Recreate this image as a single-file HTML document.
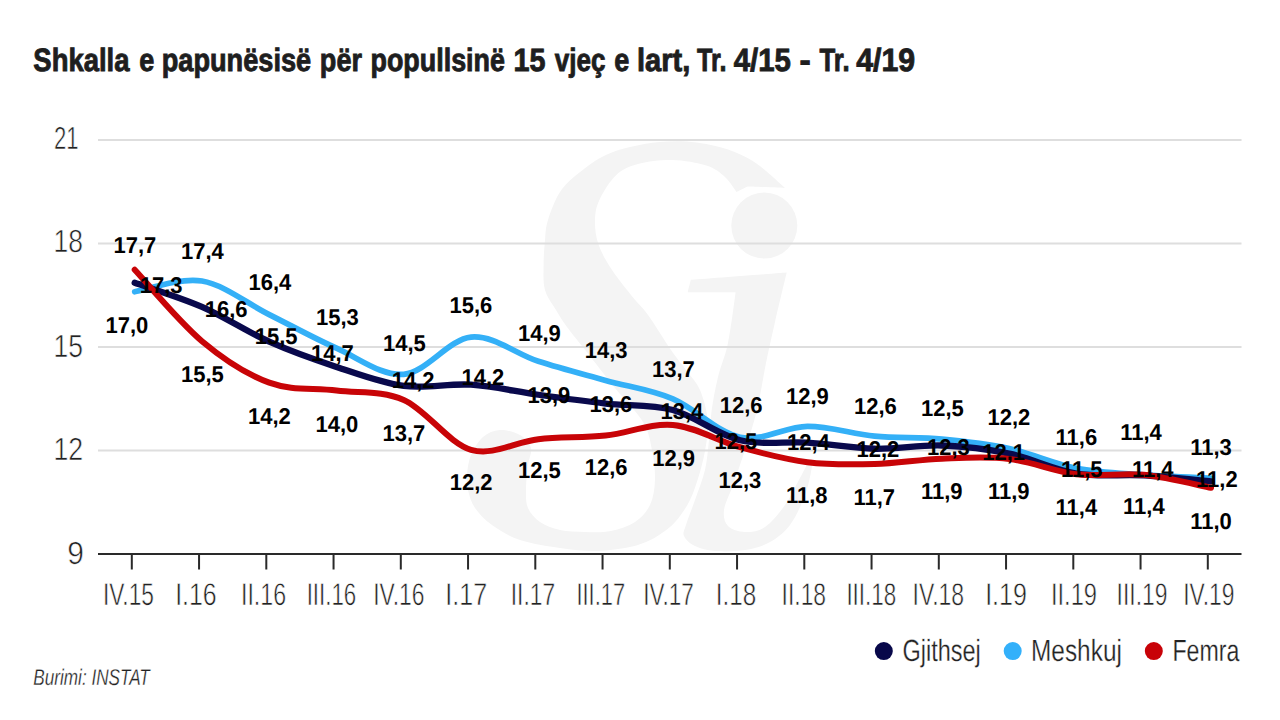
<!DOCTYPE html><html><head><meta charset="utf-8"><title>Shkalla e papunësisë</title><style>
html,body{margin:0;padding:0;background:#fff;width:1280px;height:720px;overflow:hidden}
svg{display:block;text-rendering:geometricPrecision}
.t{font-family:"Liberation Sans",Arial,sans-serif}
.lbl{font-family:"Liberation Sans",Arial,sans-serif;font-weight:bold;font-size:22.80px;fill:#000}
.ax{font-family:"Liberation Sans",Arial,sans-serif;fill:#222;stroke:#fff;stroke-width:0.6px}
</style></head><body>
<svg width="1280" height="720" viewBox="0 0 1280 720">
<rect width="1280" height="720" fill="#fff"/>
<path d="M785.0,188.0 C785.0,188.0 772.2,176.0 766.0,171.0 C759.8,166.0 755.4,162.0 747.6,158.0 C739.9,154.0 730.4,149.8 719.5,147.0 C708.6,144.2 694.5,141.8 682.0,141.3 C669.5,140.8 656.9,141.8 644.4,144.0 C631.9,146.2 617.9,149.6 607.0,154.4 C596.1,159.2 586.6,166.7 578.8,173.0 C571.0,179.3 565.1,184.2 560.0,192.0 C554.9,199.8 550.5,212.0 548.0,220.0 C545.5,228.0 545.7,232.5 545.0,240.0 C544.3,247.5 543.6,256.7 543.6,265.0 C543.6,273.3 542.9,282.5 545.0,290.0 C547.1,297.5 552.3,303.8 556.0,310.0 C559.7,316.2 562.0,320.2 567.0,327.0 C572.0,333.8 578.0,340.8 586.0,351.0 C594.0,361.2 605.5,376.2 615.0,388.0 C624.5,399.8 636.8,411.7 643.0,422.0 C649.2,432.3 650.0,440.3 652.0,450.0 C654.0,459.7 655.3,470.8 655.0,480.0 C654.7,489.2 653.3,498.0 650.0,505.0 C646.7,512.0 641.5,517.7 635.0,522.0 C628.5,526.3 619.3,529.3 611.0,531.0 C602.7,532.7 593.5,532.2 585.0,532.0 C576.5,531.8 567.5,531.7 560.0,530.0 C552.5,528.3 545.3,525.7 540.0,522.0 C534.7,518.3 530.3,513.3 528.0,508.0 C525.7,502.7 526.0,497.2 526.0,490.0 C526.0,482.8 527.2,472.0 528.0,465.0 C528.8,458.0 532.3,453.0 531.0,448.0 C529.7,443.0 525.2,438.0 520.0,435.0 C514.8,432.0 506.2,429.7 500.0,430.0 C493.8,430.3 487.8,432.8 483.0,437.0 C478.2,441.2 473.7,448.7 471.0,455.0 C468.3,461.3 467.5,469.2 467.0,475.0 C466.5,480.8 466.7,484.5 468.0,490.0 C469.3,495.5 471.0,502.2 475.0,508.0 C479.0,513.8 484.5,519.7 492.0,525.0 C499.5,530.3 508.7,536.2 520.0,540.0 C531.3,543.8 547.7,546.2 560.0,548.0 C572.3,549.8 583.2,551.0 594.0,551.0 C604.8,551.0 616.3,549.5 625.0,548.0 C633.7,546.5 639.8,544.5 646.0,542.0 C652.2,539.5 657.0,536.5 662.0,533.0 C667.0,529.5 671.3,526.5 676.0,521.0 C680.7,515.5 686.0,508.2 690.0,500.0 C694.0,491.8 697.3,481.2 700.0,472.0 C702.7,462.8 704.7,453.5 706.0,445.0 C707.3,436.5 709.0,430.2 708.0,421.0 C707.0,411.8 703.7,398.5 700.0,390.0 C696.3,381.5 690.8,376.7 686.0,370.0 C681.2,363.3 677.3,359.2 671.0,350.0 C664.7,340.8 654.7,324.2 648.0,315.0 C641.3,305.8 637.3,303.0 631.0,295.0 C624.7,287.0 615.5,275.7 610.0,267.0 C604.5,258.3 600.5,250.8 598.0,243.0 C595.5,235.2 594.8,227.2 595.0,220.0 C595.2,212.8 595.9,207.5 599.4,200.0 C602.9,192.5 609.7,181.0 616.3,175.0 C622.9,169.0 629.4,166.3 638.8,163.8 C648.2,161.3 661.4,159.7 672.6,160.0 C683.9,160.3 697.6,162.8 706.3,165.6 C715.0,168.4 720.0,172.6 725.0,177.0 C730.0,181.4 736.4,192.0 736.4,192.0 C736.4,192.0 747.6,186.5 747.6,186.5 C747.6,186.5 785.0,188.0 785.0,188.0 Z" fill="#f4f4f4"/>
<circle cx="764.3" cy="225.6" r="33" fill="#f4f4f4"/>
<path d="M690.8,279.8 C690.8,279.8 786.7,272.5 786.7,272.5 C786.7,272.5 778.5,306.8 775.0,322.0 C771.5,337.2 768.8,349.3 765.8,364.0 C762.8,378.7 760.5,395.7 757.0,410.0 C753.5,424.3 749.0,437.5 745.0,450.0 C741.0,462.5 736.5,475.0 733.0,485.0 C729.5,495.0 724.8,503.2 724.0,510.0 C723.2,516.8 724.5,522.3 728.0,526.0 C731.5,529.7 738.8,531.8 745.0,532.0 C751.2,532.2 758.3,531.5 765.0,527.0 C771.7,522.5 779.2,513.2 785.0,505.0 C790.8,496.8 795.8,485.5 800.0,478.0 C804.2,470.5 808.0,462.0 810.0,460.0 C812.0,458.0 812.8,460.2 812.0,466.0 C811.2,471.8 808.7,485.2 805.0,495.0 C801.3,504.8 795.8,517.2 790.0,525.0 C784.2,532.8 777.5,537.8 770.0,542.0 C762.5,546.2 754.2,548.5 745.0,550.0 C735.8,551.5 723.3,551.7 715.0,551.0 C706.7,550.3 700.2,548.5 695.0,546.0 C689.8,543.5 685.5,539.5 684.0,536.0 C682.5,532.5 684.2,531.0 686.0,525.0 C687.8,519.0 691.8,509.2 695.0,500.0 C698.2,490.8 702.7,480.0 705.0,470.0 C707.3,460.0 707.9,450.0 709.0,440.0 C710.1,430.0 710.2,420.5 711.7,410.0 C713.2,399.5 715.3,388.2 718.0,377.0 C720.7,365.8 725.1,357.1 728.0,343.0 C730.9,328.9 735.6,292.3 735.6,292.3 C735.6,292.3 687.7,292.3 687.7,292.3 C687.7,292.3 690.8,279.8 690.8,279.8 Z" fill="#f4f4f4"/>
<rect x="98" y="139.0" width="1143.5" height="2" fill="#dedede"/>
<rect x="98" y="242.5" width="1143.5" height="2" fill="#dedede"/>
<rect x="98" y="346.0" width="1143.5" height="2" fill="#dedede"/>
<rect x="98" y="449.5" width="1143.5" height="2" fill="#dedede"/>
<rect x="98" y="553" width="1143.5" height="2" fill="#2a2a2a"/>
<rect x="130.80" y="554" width="2" height="15.5" fill="#2a2a2a"/>
<rect x="198.05" y="554" width="2" height="15.5" fill="#2a2a2a"/>
<rect x="265.30" y="554" width="2" height="15.5" fill="#2a2a2a"/>
<rect x="332.55" y="554" width="2" height="15.5" fill="#2a2a2a"/>
<rect x="399.80" y="554" width="2" height="15.5" fill="#2a2a2a"/>
<rect x="467.05" y="554" width="2" height="15.5" fill="#2a2a2a"/>
<rect x="534.30" y="554" width="2" height="15.5" fill="#2a2a2a"/>
<rect x="601.55" y="554" width="2" height="15.5" fill="#2a2a2a"/>
<rect x="668.80" y="554" width="2" height="15.5" fill="#2a2a2a"/>
<rect x="736.05" y="554" width="2" height="15.5" fill="#2a2a2a"/>
<rect x="803.30" y="554" width="2" height="15.5" fill="#2a2a2a"/>
<rect x="870.55" y="554" width="2" height="15.5" fill="#2a2a2a"/>
<rect x="937.80" y="554" width="2" height="15.5" fill="#2a2a2a"/>
<rect x="1005.05" y="554" width="2" height="15.5" fill="#2a2a2a"/>
<rect x="1072.30" y="554" width="2" height="15.5" fill="#2a2a2a"/>
<rect x="1139.55" y="554" width="2" height="15.5" fill="#2a2a2a"/>
<rect x="1206.80" y="554" width="2" height="15.5" fill="#2a2a2a"/>
<text class="ax" x="0" y="0" font-size="32.000" transform="translate(53.976,148.900) scale(0.6899,1)">21</text>
<text class="ax" x="0" y="0" font-size="32.000" transform="translate(53.453,252.000) scale(0.8267,1)">18</text>
<text class="ax" x="0" y="0" font-size="32.000" transform="translate(53.453,356.500) scale(0.8267,1)">15</text>
<text class="ax" x="0" y="0" font-size="32.000" transform="translate(53.434,460.000) scale(0.8336,1)">12</text>
<text class="ax" x="0" y="0" font-size="32.000" transform="translate(67.207,564.400) scale(0.9370,1)">9</text>
<text class="ax" x="0" y="0" font-size="31.300" transform="translate(102.916,605.300) scale(0.7266,1)">IV.15</text>
<text class="ax" x="0" y="0" font-size="31.300" transform="translate(175.193,605.300) scale(0.7945,1)">I.16</text>
<text class="ax" x="0" y="0" font-size="31.300" transform="translate(240.971,605.300) scale(0.7403,1)">II.16</text>
<text class="ax" x="0" y="0" font-size="31.300" transform="translate(306.664,605.300) scale(0.7119,1)">III.16</text>
<text class="ax" x="0" y="0" font-size="31.300" transform="translate(373.207,605.300) scale(0.7294,1)">IV.16</text>
<text class="ax" x="0" y="0" font-size="31.300" transform="translate(445.372,605.300) scale(0.8009,1)">I.17</text>
<text class="ax" x="0" y="0" font-size="31.300" transform="translate(510.709,605.300) scale(0.7287,1)">II.17</text>
<text class="ax" x="0" y="0" font-size="31.300" transform="translate(576.456,605.300) scale(0.6991,1)">III.17</text>
<text class="ax" x="0" y="0" font-size="31.300" transform="translate(643.237,605.300) scale(0.7202,1)">IV.17</text>
<text class="ax" x="0" y="0" font-size="31.300" transform="translate(715.856,605.300) scale(0.7754,1)">I.18</text>
<text class="ax" x="0" y="0" font-size="31.300" transform="translate(781.606,605.300) scale(0.7296,1)">II.18</text>
<text class="ax" x="0" y="0" font-size="31.300" transform="translate(846.401,605.300) scale(0.7157,1)">III.18</text>
<text class="ax" x="0" y="0" font-size="31.300" transform="translate(912.591,605.300) scale(0.7340,1)">IV.18</text>
<text class="ax" x="0" y="0" font-size="31.300" transform="translate(985.179,605.300) scale(0.7987,1)">I.19</text>
<text class="ax" x="0" y="0" font-size="31.300" transform="translate(1050.918,605.300) scale(0.7565,1)">II.19</text>
<text class="ax" x="0" y="0" font-size="31.300" transform="translate(1116.604,605.300) scale(0.7302,1)">III.19</text>
<text class="ax" x="0" y="0" font-size="31.300" transform="translate(1183.207,605.300) scale(0.7294,1)">IV.19</text>
<path d="M134.70,291.78 C145.91,289.99 179.55,277.26 201.97,281.06 C224.39,284.87 246.82,303.41 269.24,314.60 C291.66,325.79 314.09,338.24 336.51,348.20 C358.93,358.15 381.36,376.17 403.78,374.33 C426.20,372.48 448.63,339.30 471.05,337.13 C493.47,334.96 515.90,354.09 538.32,361.31 C560.74,368.53 583.17,374.18 605.59,380.44 C628.01,386.69 650.44,389.39 672.86,398.86 C695.28,408.33 717.71,432.67 740.13,437.25 C762.55,441.84 784.98,426.58 807.40,426.39 C829.82,426.21 852.25,434.03 874.67,436.15 C897.09,438.27 919.52,437.04 941.94,439.11 C964.36,441.18 986.79,443.71 1009.21,448.57 C1031.63,453.43 1054.06,463.92 1076.48,468.29 C1098.90,472.67 1121.33,473.17 1143.75,474.80 C1166.17,476.43 1199.81,477.51 1211.02,478.06" fill="none" stroke="#34b0f7" stroke-width="5.7" stroke-linecap="round" stroke-linejoin="round"/>
<path d="M134.70,282.82 C145.91,286.82 179.55,297.03 201.97,306.84 C224.39,316.66 246.82,331.68 269.24,341.69 C291.66,351.70 314.09,359.55 336.51,366.92 C358.93,374.29 381.36,382.93 403.78,385.89 C426.20,388.85 448.63,383.21 471.05,384.69 C493.47,386.17 515.90,391.61 538.32,394.75 C560.74,397.90 583.17,401.03 605.59,403.56 C628.01,406.10 650.44,403.86 672.86,409.97 C695.28,416.09 717.71,434.83 740.13,440.26 C762.55,445.69 784.98,441.14 807.40,442.56 C829.82,443.98 852.25,448.28 874.67,448.77 C897.09,449.26 919.52,444.71 941.94,445.52 C964.36,446.32 986.79,448.95 1009.21,453.62 C1031.63,458.30 1054.06,469.92 1076.48,473.55 C1098.90,477.18 1121.33,474.11 1143.75,475.40 C1166.17,476.70 1199.81,480.33 1211.02,481.31" fill="none" stroke="#09094c" stroke-width="6.3" stroke-linecap="round" stroke-linejoin="round"/>
<path d="M134.70,269.80 C145.91,281.70 179.55,322.37 201.97,341.19 C224.39,360.00 246.82,374.47 269.24,382.69 C291.66,390.91 314.09,387.62 336.51,390.50 C358.93,393.38 381.36,390.08 403.78,399.96 C426.20,409.84 448.63,443.24 471.05,449.77 C493.47,456.30 515.90,441.53 538.32,439.16 C560.74,436.79 583.17,437.93 605.59,435.55 C628.01,433.18 650.44,422.95 672.86,424.89 C695.28,426.84 717.71,441.00 740.13,447.22 C762.55,453.43 784.98,459.40 807.40,462.19 C829.82,464.97 852.25,464.53 874.67,463.94 C897.09,463.35 919.52,459.47 941.94,458.63 C964.36,457.80 986.79,456.32 1009.21,458.93 C1031.63,461.54 1054.06,471.66 1076.48,474.30 C1098.90,476.95 1121.33,472.55 1143.75,474.80 C1166.17,477.05 1199.81,485.65 1211.02,487.82" fill="none" stroke="#c80407" stroke-width="6.0" stroke-linecap="round" stroke-linejoin="round"/>
<text class="lbl" x="0" y="0" transform="translate(113.50,252.90) scale(0.965,1)">17,7</text>
<text class="lbl" x="0" y="0" transform="translate(139.75,292.90) scale(0.965,1)">17,3</text>
<text class="lbl" x="0" y="0" transform="translate(105.50,332.90) scale(0.965,1)">17,0</text>
<text class="lbl" x="0" y="0" transform="translate(181.00,259.15) scale(0.965,1)">17,4</text>
<text class="lbl" x="0" y="0" transform="translate(204.75,316.65) scale(0.965,1)">16,6</text>
<text class="lbl" x="0" y="0" transform="translate(181.00,381.65) scale(0.965,1)">15,5</text>
<text class="lbl" x="0" y="0" transform="translate(248.50,289.90) scale(0.965,1)">16,4</text>
<text class="lbl" x="0" y="0" transform="translate(254.75,343.65) scale(0.965,1)">15,5</text>
<text class="lbl" x="0" y="0" transform="translate(248.00,424.15) scale(0.965,1)">14,2</text>
<text class="lbl" x="0" y="0" transform="translate(316.00,324.90) scale(0.965,1)">15,3</text>
<text class="lbl" x="0" y="0" transform="translate(311.00,361.15) scale(0.965,1)">14,7</text>
<text class="lbl" x="0" y="0" transform="translate(315.50,432.40) scale(0.965,1)">14,0</text>
<text class="lbl" x="0" y="0" transform="translate(383.00,350.65) scale(0.965,1)">14,5</text>
<text class="lbl" x="0" y="0" transform="translate(391.70,388.40) scale(0.965,1)">14,2</text>
<text class="lbl" x="0" y="0" transform="translate(382.50,441.40) scale(0.965,1)">13,7</text>
<text class="lbl" x="0" y="0" transform="translate(449.50,313.40) scale(0.965,1)">15,6</text>
<text class="lbl" x="0" y="0" transform="translate(461.50,384.90) scale(0.965,1)">14,2</text>
<text class="lbl" x="0" y="0" transform="translate(449.75,489.90) scale(0.965,1)">12,2</text>
<text class="lbl" x="0" y="0" transform="translate(518.00,340.65) scale(0.965,1)">14,9</text>
<text class="lbl" x="0" y="0" transform="translate(527.50,403.20) scale(0.965,1)">13,9</text>
<text class="lbl" x="0" y="0" transform="translate(518.00,478.40) scale(0.965,1)">12,5</text>
<text class="lbl" x="0" y="0" transform="translate(584.75,357.65) scale(0.965,1)">14,3</text>
<text class="lbl" x="0" y="0" transform="translate(589.50,411.70) scale(0.965,1)">13,6</text>
<text class="lbl" x="0" y="0" transform="translate(584.75,475.40) scale(0.965,1)">12,6</text>
<text class="lbl" x="0" y="0" transform="translate(652.00,376.90) scale(0.965,1)">13,7</text>
<text class="lbl" x="0" y="0" transform="translate(660.50,418.70) scale(0.965,1)">13,4</text>
<text class="lbl" x="0" y="0" transform="translate(652.25,465.90) scale(0.965,1)">12,9</text>
<text class="lbl" x="0" y="0" transform="translate(719.75,412.90) scale(0.965,1)">12,6</text>
<text class="lbl" x="0" y="0" transform="translate(714.50,449.15) scale(0.965,1)">12,5</text>
<text class="lbl" x="0" y="0" transform="translate(718.50,487.90) scale(0.965,1)">12,3</text>
<text class="lbl" x="0" y="0" transform="translate(786.00,404.15) scale(0.965,1)">12,9</text>
<text class="lbl" x="0" y="0" transform="translate(787.00,450.20) scale(0.965,1)">12,4</text>
<text class="lbl" x="0" y="0" transform="translate(786.00,503.40) scale(0.965,1)">11,8</text>
<text class="lbl" x="0" y="0" transform="translate(854.00,414.15) scale(0.965,1)">12,6</text>
<text class="lbl" x="0" y="0" transform="translate(856.50,457.10) scale(0.965,1)">12,2</text>
<text class="lbl" x="0" y="0" transform="translate(853.50,505.40) scale(0.965,1)">11,7</text>
<text class="lbl" x="0" y="0" transform="translate(921.00,415.90) scale(0.965,1)">12,5</text>
<text class="lbl" x="0" y="0" transform="translate(927.00,454.90) scale(0.965,1)">12,3</text>
<text class="lbl" x="0" y="0" transform="translate(921.00,499.15) scale(0.965,1)">11,9</text>
<text class="lbl" x="0" y="0" transform="translate(987.50,425.40) scale(0.965,1)">12,2</text>
<text class="lbl" x="0" y="0" transform="translate(982.25,460.40) scale(0.965,1)">12,1</text>
<text class="lbl" x="0" y="0" transform="translate(988.00,499.15) scale(0.965,1)">11,9</text>
<text class="lbl" x="0" y="0" transform="translate(1055.60,444.60) scale(0.965,1)">11,6</text>
<text class="lbl" x="0" y="0" transform="translate(1060.90,476.90) scale(0.965,1)">11,5</text>
<text class="lbl" x="0" y="0" transform="translate(1055.60,514.60) scale(0.965,1)">11,4</text>
<text class="lbl" x="0" y="0" transform="translate(1120.20,440.30) scale(0.965,1)">11,4</text>
<text class="lbl" x="0" y="0" transform="translate(1131.90,477.20) scale(0.965,1)">11,4</text>
<text class="lbl" x="0" y="0" transform="translate(1123.10,514.30) scale(0.965,1)">11,4</text>
<text class="lbl" x="0" y="0" transform="translate(1190.25,455.30) scale(0.965,1)">11,3</text>
<text class="lbl" x="0" y="0" transform="translate(1196.10,487.00) scale(0.965,1)">11,2</text>
<text class="lbl" x="0" y="0" transform="translate(1190.25,529.20) scale(0.965,1)">11,0</text>
<g class="t" font-weight="bold" fill="#1e1e1e" stroke="#1e1e1e" stroke-width="0.9">
<text x="0" y="0" font-size="32.23" transform="translate(33.35,70.6) scale(0.8515,1)">Shkalla</text>
<text x="0" y="0" font-size="32.23" transform="translate(139.20,70.6) scale(0.8409,1)">e</text>
<text x="0" y="0" font-size="32.23" transform="translate(161.70,70.6) scale(0.8434,1)">papunësisë</text>
<text x="0" y="0" font-size="32.23" transform="translate(319.86,70.6) scale(0.8408,1)">për</text>
<text x="0" y="0" font-size="32.23" transform="translate(370.52,70.6) scale(0.8345,1)">popullsinë</text>
<text x="0" y="0" font-size="32.23" transform="translate(513.52,70.6) scale(0.8915,1)">15</text>
<text x="0" y="0" font-size="32.23" transform="translate(554.78,70.6) scale(0.8088,1)">vjeç</text>
<text x="0" y="0" font-size="32.23" transform="translate(614.20,70.6) scale(0.8409,1)">e</text>
<text x="0" y="0" font-size="32.23" transform="translate(637.04,70.6) scale(0.9016,1)">lart,</text>
<text x="0" y="0" font-size="32.23" transform="translate(696.90,70.6) scale(0.7853,1)">Tr.</text>
<text x="0" y="0" font-size="32.23" transform="translate(733.75,70.6) scale(0.9121,1)">4/15</text>
<text x="0" y="0" font-size="32.23" transform="translate(799.61,70.6) scale(1.0438,1)">-</text>
<text x="0" y="0" font-size="32.23" transform="translate(819.40,70.6) scale(0.8020,1)">Tr.</text>
<text x="0" y="0" font-size="32.23" transform="translate(856.25,70.6) scale(0.9401,1)">4/19</text>
</g>
<circle cx="883.8" cy="651.1" r="9" fill="#08084a"/>
<circle cx="1012.7" cy="651.1" r="9" fill="#33b0fa"/>
<circle cx="1153.8" cy="651.1" r="9" fill="#c80208"/>
<text class="ax" x="0" y="0" font-size="30.700" transform="translate(902.429,660.600) scale(0.7655,1)" style="stroke-width:0.3px">Gjithsej</text>
<text class="ax" x="0" y="0" font-size="30.700" transform="translate(1031.013,660.600) scale(0.7951,1)" style="stroke-width:0.3px">Meshkuj</text>
<text class="ax" x="0" y="0" font-size="30.700" transform="translate(1172.376,660.600) scale(0.7548,1)" style="stroke-width:0.3px">Femra</text>
<text class="ax" x="0" y="0" font-size="22.710" transform="translate(33.326,684.900) scale(0.7548,1)" font-style="italic" style="stroke-width:0.3px">Burimi: INSTAT</text>
</svg></body></html>
